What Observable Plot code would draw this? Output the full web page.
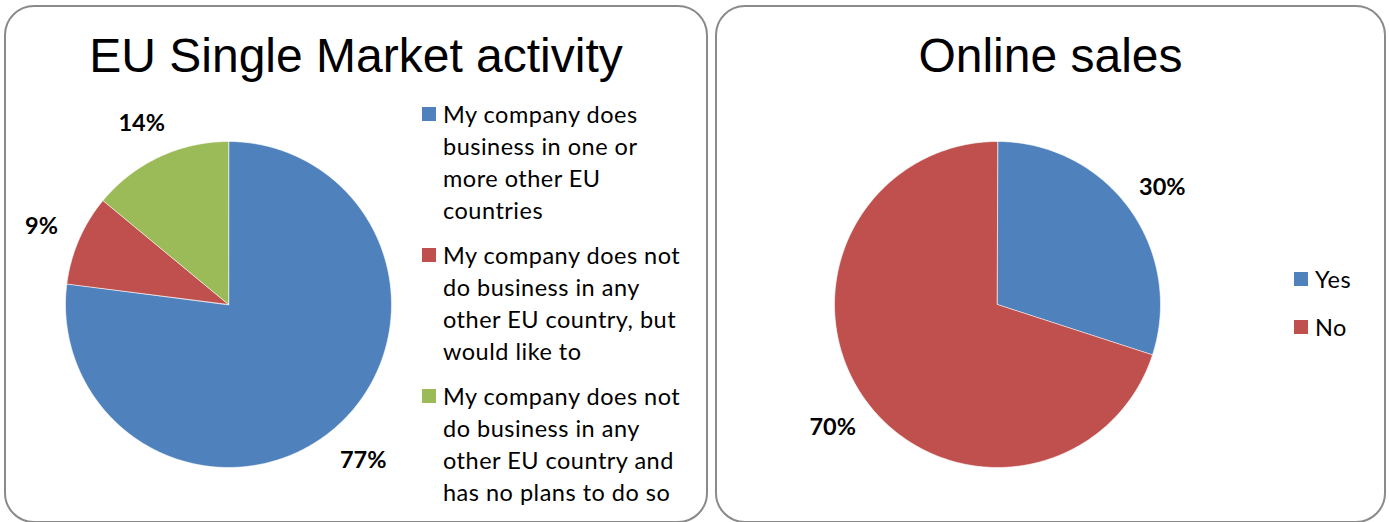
<!DOCTYPE html>
<html>
<head>
<meta charset="utf-8">
<script src="https://cdn.jsdelivr.net/npm/d3@7"></script>
<script src="https://cdn.jsdelivr.net/npm/@observablehq/plot@0.6"></script>
<style>
  html, body { margin: 0; padding: 0; background: #fff; }
  #root { position: relative; width: 1389px; height: 522px; overflow: hidden; }
  .panel { position: absolute; box-sizing: border-box; border: 2px solid #8a8a8a; border-radius: 30px; background: #fff; }
  .title { position: absolute; left: 0; right: 0; text-align: center; font-family: "Liberation Sans", Arial, sans-serif; font-size: 48px; line-height: 48px; color: #000; white-space: nowrap; }
  .legend { position: absolute; font-family: Lato, "Open Sans", sans-serif; font-size: 23.5px; letter-spacing: 0.5px; line-height: 32px; color: #000; white-space: nowrap; }
  .legend .item { position: relative; padding-left: 21px; }
  .legend .sw { position: absolute; left: 0; top: 9px; width: 14px; height: 14px; }
  .overlay { position: absolute; left: 0; top: 0; }
</style>
</head>
<body>
<div id="root"></div>
<script>
// ---- Data ----
const euTitle = "EU Single Market activity";
const euCategories = [
  "My company does business in one or more other EU countries",
  "My company does not do business in any other EU country, but would like to",
  "My company does not do business in any other EU country and has no plans to do so"
];
const euLegendLines = [
  ["My company does", "business in one or", "more other EU", "countries"],
  ["My company does not", "do business in any", "other EU country, but", "would like to"],
  ["My company does not", "do business in any", "other EU country and", "has no plans to do so"]
];
const euValues = [77, 9, 14];
const euLabels = ["77%", "9%", "14%"];

const onlineTitle = "Online sales";
const onlineCategories = ["Yes", "No"];
const onlineValues = [30, 70];
const onlineLabels = ["30%", "70%"];

const euColors = ["#4F81BD", "#C0504D", "#9BBB59"];
const onlineColors = ["#4F81BD", "#C0504D"];

// ---- Layout ----
const root = document.getElementById("root");
function panel(left, top, w, h, title) {
  const p = document.createElement("div");
  p.className = "panel";
  Object.assign(p.style, {left: left + "px", top: top + "px", width: w + "px", height: h + "px"});
  const t = document.createElement("div");
  t.className = "title";
  t.style.top = (30 - top) + "px";
  t.textContent = title;
  p.appendChild(t);
  root.appendChild(p);
  return p;
}
panel(4, 5, 704, 518, euTitle);
panel(715, 5, 671, 518, onlineTitle);

function legend(left, top, cats, lines, colors, gap) {
  const lg = document.createElement("div");
  lg.className = "legend";
  lg.style.left = left + "px";
  lg.style.top = top + "px";
  cats.forEach((c, i) => {
    const it = document.createElement("div");
    it.className = "item";
    it.style.marginBottom = gap + "px";
    const sw = document.createElement("span");
    sw.className = "sw";
    sw.style.background = colors[i];
    it.appendChild(sw);
    (lines ? lines[i] : [c]).forEach(l => {
      const d = document.createElement("div");
      d.textContent = l;
      it.appendChild(d);
    });
    lg.appendChild(it);
  });
  root.appendChild(lg);
}
legend(422, 98, euCategories, euLegendLines, euColors, 13);
legend(1294, 263, onlineCategories, null, onlineColors, 16);

// ---- Pies ----
function pieData(cats, values, labels) {
  const arcs = d3.pie().sort(null).value(d => d)(values);
  const poly = [];
  const lab = [];
  arcs.forEach((a, i) => {
    const steps = Math.max(2, Math.ceil((a.endAngle - a.startAngle) / (Math.PI / 180)));
    poly.push({cat: cats[i], x: 0, y: 0});
    for (let k = 0; k <= steps; k++) {
      const t = a.startAngle + (a.endAngle - a.startAngle) * k / steps;
      poly.push({cat: cats[i], x: Math.sin(t), y: Math.cos(t)});
    }
    const m = (a.startAngle + a.endAngle) / 2;
    lab.push({cat: cats[i], label: labels[i], x: 1.25 * Math.sin(m), y: 1.25 * Math.cos(m)});
  });
  return {poly, lab};
}

function drawPie(cats, values, labels, colors, cx, cy, r) {
  const {poly, lab} = pieData(cats, values, labels);
  const svg = Plot.plot({
    width: 1389,
    height: 522,
    margin: 0,
    x: {domain: [-1, 1], range: [cx - r, cx + r], axis: null},
    y: {domain: [-1, 1], range: [cy + r, cy - r], axis: null},
    color: {type: "ordinal", domain: cats, range: colors},
    style: {background: "transparent", overflow: "visible"},
    marks: [
      Plot.line(poly, {x: "x", y: "y", z: "cat", fill: "cat", stroke: "white", strokeWidth: 0.6, curve: "linear-closed"}),
      Plot.text(lab, {x: "x", y: "y", text: "label", dy: 3, fontSize: 23.5, fontWeight: "bold", fontFamily: "Lato, sans-serif", fill: "black"})
    ]
  });
  svg.classList.add("overlay");
  root.appendChild(svg);
}
drawPie(euCategories, euValues, euLabels, euColors, 228, 304, 163);
drawPie(onlineCategories, onlineValues, onlineLabels, onlineColors, 997, 304, 163);
</script>
</body>
</html>
